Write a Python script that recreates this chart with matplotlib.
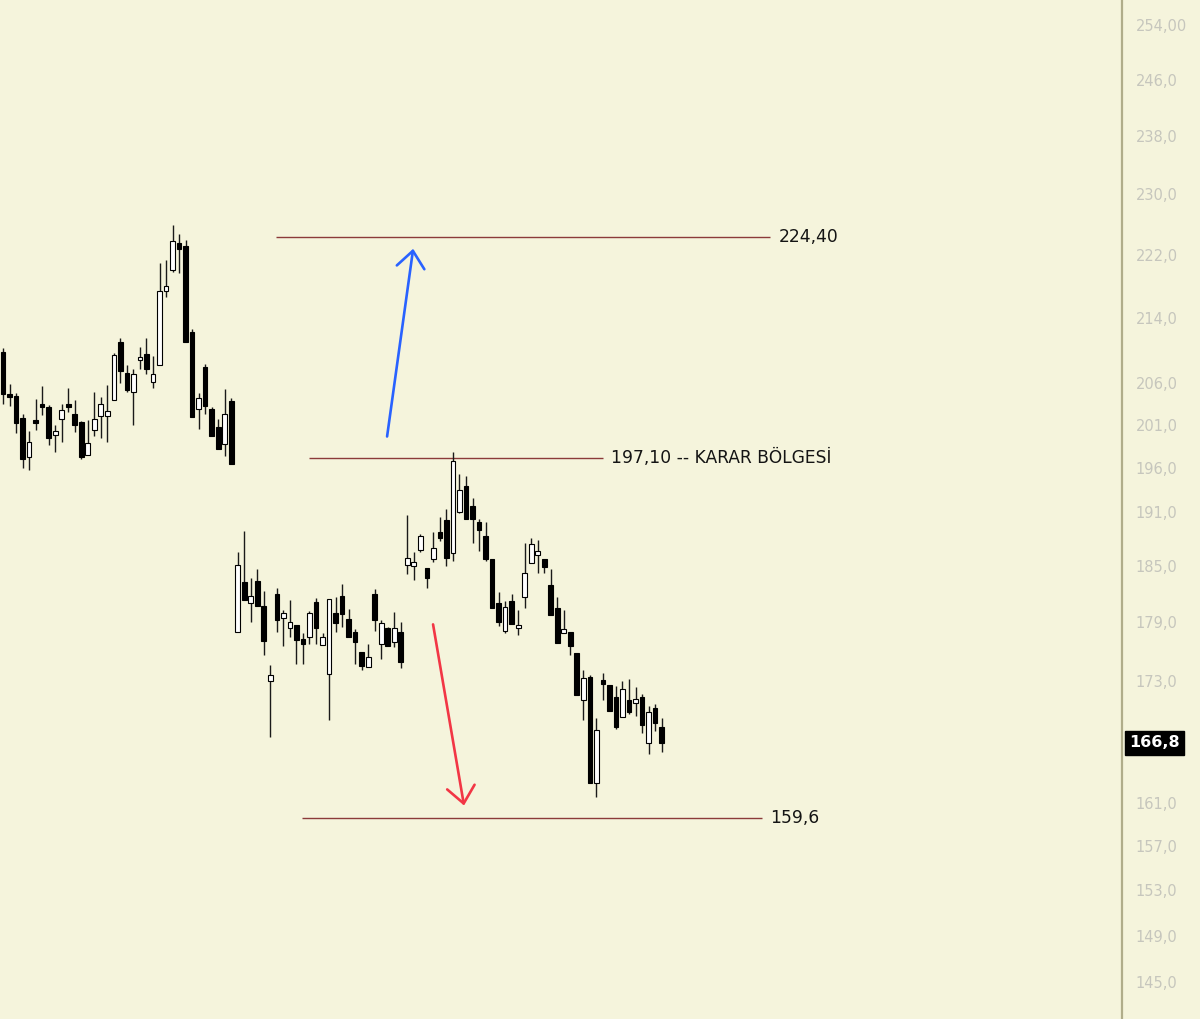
import matplotlib
matplotlib.use('Agg')
import matplotlib.pyplot as plt
import matplotlib.transforms as mtransforms
from matplotlib.ticker import NullLocator
import numpy as np

# daily candles (price)
opens = [209.7, 204.6, 204.4, 201.8, 197.2, 201.3, 203.4, 203.1, 199.8, 201.6,
         203.4, 202.2, 201.3, 197.5, 200.4, 202.0, 202.0, 203.9, 211.0, 207.2,
         204.9, 208.8, 209.5, 206.1, 208.1, 217.4, 220.1, 223.6, 223.2, 212.2,
         202.8, 207.9, 202.9, 200.7, 198.7, 203.8, 178.0, 183.3, 181.0, 183.4,
         180.7, 173.0, 182.0, 179.5, 178.4, 178.7, 177.3, 177.5, 181.2, 176.7,
         173.7, 180.0, 181.8, 179.4, 178.0, 175.9, 174.4, 182.0, 176.8, 178.4,
         177.0, 178.0, 185.1, 185.0, 186.8, 184.8, 185.8, 188.7, 190.1, 186.4,
         191.0, 193.9, 191.6, 189.8, 188.3, 185.8, 181.1, 178.1, 181.3, 178.4,
         181.7, 185.3, 186.2, 185.8, 183.0, 180.5, 177.9, 178.0, 175.8, 171.1,
         173.4, 162.9, 173.1, 172.6, 171.4, 169.4, 171.1, 170.8, 171.4, 166.8,
         170.3, 168.4]
highs = [210.2, 205.8, 204.8, 202.3, 200.3, 204.0, 205.6, 203.3, 200.9, 203.4,
         205.4, 203.9, 201.4, 201.5, 204.9, 204.3, 205.7, 209.6, 211.4, 208.1,
         207.6, 210.3, 211.5, 209.2, 221.0, 221.4, 225.9, 224.7, 224.0, 212.6,
         204.8, 208.3, 203.1, 201.6, 205.2, 204.1, 186.5, 188.9, 183.7, 184.7,
         182.3, 174.6, 182.6, 180.3, 181.4, 178.7, 177.9, 180.2, 181.6, 177.9,
         181.5, 181.7, 183.1, 180.4, 178.3, 175.9, 176.8, 182.5, 179.3, 178.5,
         180.1, 179.0, 190.6, 186.5, 188.5, 184.8, 188.7, 190.4, 191.3, 197.8,
         195.3, 195.0, 192.5, 190.2, 189.8, 185.8, 182.2, 181.3, 182.0, 180.3,
         187.5, 188.1, 187.9, 185.8, 184.7, 181.7, 180.3, 178.0, 175.8, 174.1,
         173.6, 169.3, 173.8, 172.6, 172.5, 173.0, 173.2, 172.4, 171.7, 170.5,
         170.7, 169.3]
lows = [203.4, 203.2, 200.0, 195.9, 195.7, 200.4, 202.1, 198.6, 197.8, 199.0,
        202.5, 200.1, 197.0, 197.4, 199.7, 199.4, 198.9, 203.9, 205.9, 204.9,
        200.9, 207.7, 207.0, 205.3, 208.1, 216.6, 219.8, 219.6, 210.9, 201.9,
        200.5, 202.2, 199.6, 198.2, 197.3, 196.4, 178.0, 181.4, 179.0, 180.7,
        175.6, 167.4, 178.0, 176.5, 177.5, 174.7, 174.7, 176.8, 176.8, 176.7,
        169.1, 178.0, 178.5, 177.5, 174.7, 174.1, 174.4, 178.1, 175.2, 176.5,
        176.4, 174.3, 184.2, 183.5, 186.5, 182.6, 185.5, 187.8, 185.0, 185.6,
        190.8, 190.2, 187.5, 186.6, 185.6, 180.5, 178.6, 177.9, 178.8, 177.7,
        180.5, 185.3, 184.3, 184.3, 179.8, 176.9, 177.9, 175.6, 171.6, 169.1,
        162.9, 161.6, 171.1, 170.0, 168.2, 169.4, 169.7, 169.5, 167.8, 165.7,
        168.0, 165.9]
closes = [204.6, 204.3, 201.2, 197.0, 199.0, 201.2, 203.1, 199.4, 200.2, 202.7,
          203.1, 201.0, 197.2, 198.8, 201.6, 203.4, 202.6, 209.4, 207.4, 205.1,
          207.0, 209.1, 207.7, 207.0, 217.4, 218.0, 223.8, 222.8, 210.9, 201.9,
          204.2, 203.2, 199.6, 198.2, 202.3, 196.4, 185.1, 181.4, 181.8, 180.7,
          177.1, 173.6, 179.3, 180.0, 179.0, 177.2, 176.8, 180.0, 178.4, 177.5,
          181.5, 178.9, 179.9, 177.5, 177.0, 174.5, 175.4, 179.3, 178.9, 176.5,
          178.4, 174.9, 185.9, 185.4, 188.3, 183.7, 187.0, 188.1, 185.9, 196.8,
          193.4, 190.2, 190.2, 189.0, 185.8, 180.5, 179.0, 180.6, 178.8, 178.7,
          184.3, 187.4, 186.6, 184.9, 179.8, 176.9, 178.3, 176.6, 171.6, 173.3,
          162.9, 168.1, 172.7, 170.0, 168.4, 172.2, 169.9, 171.2, 168.6, 169.9,
          168.8, 166.8]

# drawn levels: price, label, bar index where the line starts / ends
levels = [224.40, 197.10, 159.6]
level_labels = ['224,40', '197,10 -- KARAR BÖLGESİ', '159,6']
level_start = [41.9, 46.9, 45.9]
level_end = [117.6, 92.0, 116.4]

# arrows (bar index, price)
up_arrow = [(58.9, 199.6), (62.9, 222.8)]
down_arrow = [(65.95, 178.8), (70.7, 160.8)]

price_ticks = [145, 149, 153, 157, 161, 173, 179, 185, 191, 196, 201, 206,
               214, 222, 230, 238, 246, 254]
price_tick_labels = ['145,0', '149,0', '153,0', '157,0', '161,0', '173,0',
                     '179,0', '185,0', '191,0', '196,0', '201,0', '206,0',
                     '214,0', '222,0', '230,0', '238,0', '246,0', '254,00']

bg = '#f5f4dc'
fig = plt.figure(figsize=(12, 10.19), dpi=100)
fig.patch.set_facecolor(bg)
ax = fig.add_axes([0, 0, 1122 / 1200, 1])
ax.set_facecolor(bg)

o = np.array(opens)
h = np.array(highs)
l = np.array(lows)
c = np.array(closes)
x = np.arange(len(o))
up = c >= o
bottoms = np.minimum(o, c)
heights = np.maximum(np.abs(c - o), 0.3)

ax.vlines(x, l, h, color='#1a1a1a', lw=1.0, zorder=2)
ax.bar(x[up], heights[up], bottom=bottoms[up], width=0.72,
       facecolor='white', edgecolor='black', lw=0.8, zorder=3)
ax.bar(x[~up], heights[~up], bottom=bottoms[~up], width=0.72,
       facecolor='black', edgecolor='black', lw=0.8, zorder=3)

# levels
ax.hlines(levels, level_start, level_end, color='#8b3a3a', lw=1.0, zorder=1)
for lv, lab, xe in zip(levels, level_labels, level_end):
    ax.text(xe + 1.3, lv, lab, va='center', ha='left', fontsize=12.3,
            color='#141414')

# arrows
for (p0, p1), col in [(up_arrow, '#2962ff'), (down_arrow, '#f23645')]:
    ax.annotate('', xy=p1, xytext=p0,
                arrowprops=dict(arrowstyle='->,head_length=0.6,head_width=0.5',
                                color=col, lw=1.9, shrinkA=0, shrinkB=0,
                                mutation_scale=20))

ax.set_yscale('log')
ax.set_ylim(141.9, 257.75)
ax.set_xlim(-0.46, 171.6)
ax.yaxis.set_minor_locator(NullLocator())
ax.yaxis.tick_right()
ax.set_yticks(price_ticks)
ax.set_yticklabels(price_tick_labels)
ax.tick_params(axis='y', length=0, pad=10, labelsize=10.5, labelcolor='#c6c6bd')
ax.set_xticks([])
for side in ['top', 'left', 'bottom']:
    ax.spines[side].set_visible(False)
ax.spines['right'].set_color('#b0ad8a')
ax.spines['right'].set_linewidth(1.6)

# last price tag
trans = mtransforms.blended_transform_factory(ax.transAxes, ax.transData)
ax.text(1.0 + 7 / 1122, closes[-1], f'{closes[-1]:.1f}'.replace('.', ','),
        transform=trans, va='center', ha='left', color='white',
        fontsize=11.5, fontweight='bold', clip_on=False,
        bbox=dict(boxstyle='square,pad=0.28', fc='black', ec='black'))

fig.savefig('out.png', dpi=100, facecolor=bg)
